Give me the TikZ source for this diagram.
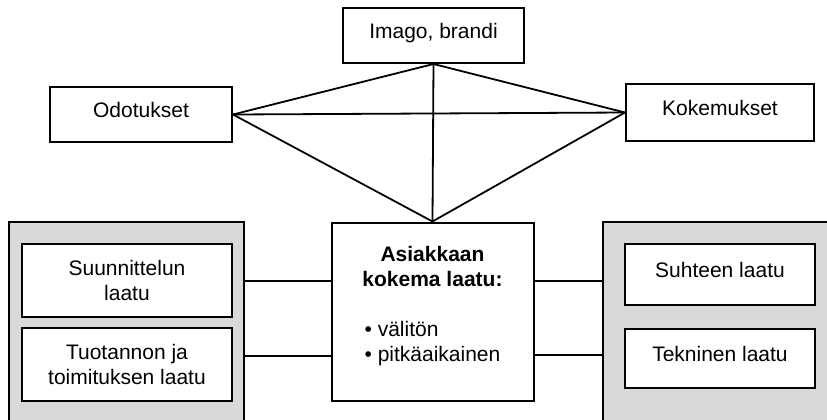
\documentclass[tikz,border=0pt]{standalone}
\usepackage{fontspec}
\setmainfont{Liberation Sans}
\usetikzlibrary{positioning}

\begin{document}
\begin{tikzpicture}[x=0.5pt,y=-0.5pt,
			laatikko/.style={draw,fill=white,line width=1pt,inner sep=0pt,align=center,font=\fontsize{10.5}{12.5}\selectfont},
			yksirivi/.style={laatikko,text height=8pt,text depth=5pt},
			paneeli/.style={draw,fill=gray!30,line width=0.65pt,inner sep=0pt,minimum height=120pt},
			viiva/.style={line width=0.9pt}]
			\clip (0,0) rectangle (827,419);
			\node[paneeli,minimum width=117.5pt] at(126.5,342) (vasen) {};
			\node[paneeli,minimum width=123.5pt] at(726.5,342) (oikea) {};
			
			\node[yksirivi,minimum width=90.5pt,minimum height=27.5pt] at(433.5,35.5) (imago) {Imago, brandi};
			\node[yksirivi,minimum width=91pt,minimum height=27.5pt] at(141,114.5) (odotukset) {Odotukset};
			\node[yksirivi,minimum width=94pt,minimum height=28.5pt] at(720,112.5) (kokemukset) {Kokemukset};
			\node[laatikko,minimum width=101pt,minimum height=89pt] at(432.5,311.5) (asiakas) {\textbf{Asiakkaan}\\\textbf{kokema laatu:}\\[12.5pt]\begin{tabular}[t]{@{}l@{}}• välitön\\• pitkäaikainen\rule[-7.2pt]{0pt}{1pt}\end{tabular}};
			\node[laatikko,minimum width=105pt,minimum height=36.5pt] at(127,280.5) (suunnittelu) {Suunnittelun\\laatu};
			\node[laatikko,minimum width=105pt,minimum height=36.5pt] at(127,364.5) (tuotanto) {Tuotannon ja\\toimituksen laatu};
			\node[yksirivi,minimum width=95pt,minimum height=30.5pt] at(720,274.5) (suhde) {Suhteen laatu};
			\node[yksirivi,minimum width=95pt,minimum height=29.5pt] at(720,358.5) (tekninen) {Tekninen laatu};
			
			\draw[viiva] (imago.south) -- (odotukset.east);
			\draw[viiva] (imago.south) -- (kokemukset.west);
			\draw[viiva] (imago.south) -- (asiakas.north);
			\draw[viiva] (odotukset.east) -- (kokemukset.west);
			\draw[viiva] (odotukset.east) -- (asiakas.north);
			\draw[viiva] (kokemukset.west) -- (asiakas.north);
			\draw[viiva] (vasen.east |- 0,281) -- (asiakas.west |- 0,281);
			\draw[viiva] (vasen.east |- 0,356) -- (asiakas.west |- 0,356);
			\draw[viiva] (asiakas.east |- 0,281) -- (oikea.west |- 0,281);
			\draw[viiva] (asiakas.east |- 0,355) -- (oikea.west |- 0,355);
			\end{tikzpicture}
\end{document}
